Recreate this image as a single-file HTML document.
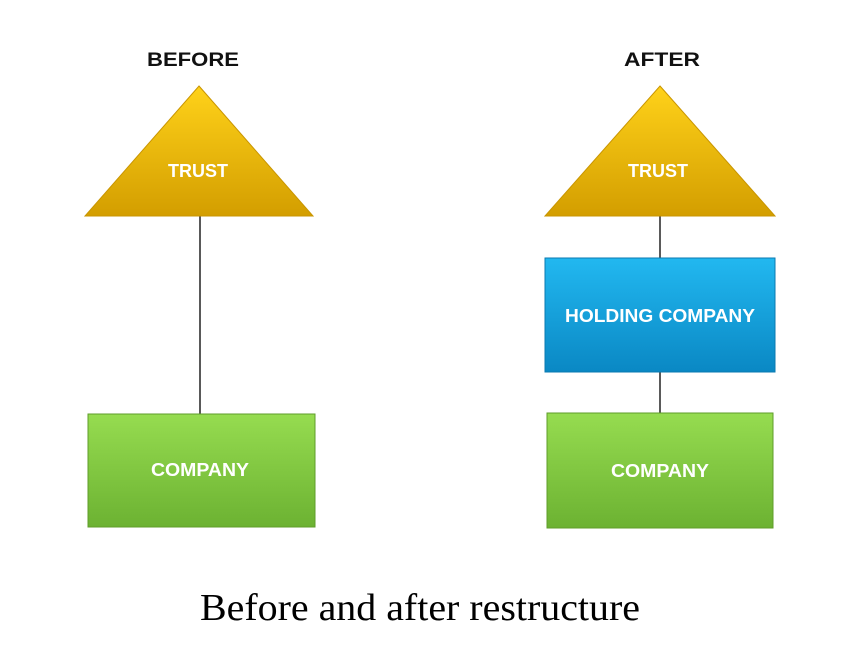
<!DOCTYPE html>
<html><head><style>
body{margin:0;background:#fff;}
</style></head><body>
<svg width="864" height="643" xmlns="http://www.w3.org/2000/svg">
<defs>
<linearGradient id="gold" x1="0" y1="0" x2="0" y2="1"><stop offset="0" stop-color="#ffd21a"/><stop offset="1" stop-color="#d39e00"/></linearGradient>
<linearGradient id="blue" x1="0" y1="0" x2="0" y2="1"><stop offset="0" stop-color="#22b8f0"/><stop offset="1" stop-color="#0a88c4"/></linearGradient>
<linearGradient id="green" x1="0" y1="0" x2="0" y2="1"><stop offset="0" stop-color="#96dc50"/><stop offset="1" stop-color="#6cb232"/></linearGradient>
</defs>
<rect width="864" height="643" fill="#fff"/>
<g font-family="Liberation Sans, sans-serif" font-weight="bold" text-anchor="middle">
<text x="193" y="66" font-size="19" fill="#111" textLength="92" lengthAdjust="spacingAndGlyphs">BEFORE</text>
<text x="662" y="66" font-size="19" fill="#111" textLength="76" lengthAdjust="spacingAndGlyphs">AFTER</text>
<line x1="200" y1="216" x2="200" y2="414" stroke="#222" stroke-width="1.5"/>
<line x1="660" y1="216" x2="660" y2="258" stroke="#222" stroke-width="1.5"/>
<line x1="660" y1="372" x2="660" y2="413" stroke="#222" stroke-width="1.5"/>
<polygon points="199,86 313,216 85,216" fill="url(#gold)" stroke="#c99500"/>
<polygon points="660,86 775,216 545,216" fill="url(#gold)" stroke="#c99500"/>
<rect x="88" y="414" width="227" height="113" fill="url(#green)" stroke="#5f9d2a"/>
<rect x="545" y="258" width="230" height="114" fill="url(#blue)" stroke="#0a7ab0"/>
<rect x="547" y="413" width="226" height="115" fill="url(#green)" stroke="#5f9d2a"/>
<g fill="#fff" font-size="18">
<text x="198" y="177" textLength="60" lengthAdjust="spacingAndGlyphs">TRUST</text>
<text x="658" y="177" textLength="60" lengthAdjust="spacingAndGlyphs">TRUST</text>
<text x="200" y="476" textLength="98" lengthAdjust="spacingAndGlyphs">COMPANY</text>
<text x="660" y="322" textLength="190" lengthAdjust="spacingAndGlyphs">HOLDING COMPANY</text>
<text x="660" y="477" textLength="98" lengthAdjust="spacingAndGlyphs">COMPANY</text>
</g>
</g>
<text x="420" y="620" font-family="Liberation Serif, serif" font-size="38" text-anchor="middle" fill="#000" textLength="440" lengthAdjust="spacingAndGlyphs">Before and after restructure</text>
</svg>
</body></html>
